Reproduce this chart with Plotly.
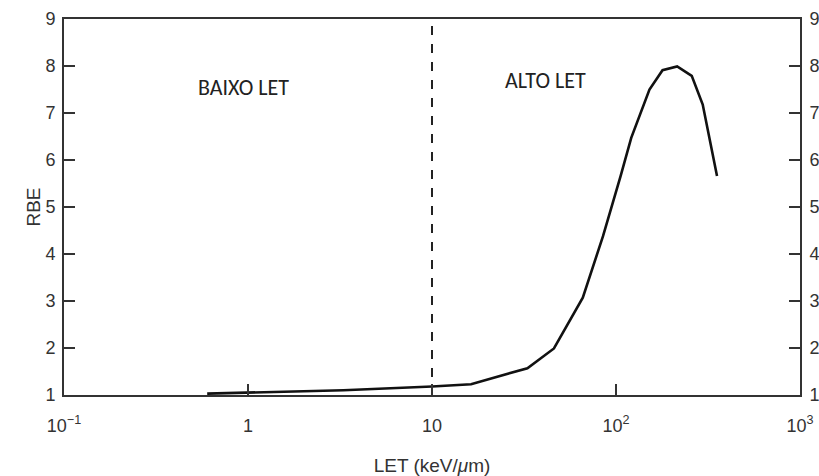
import math
import plotly.graph_objects as go

# Data
let_vals = [0.6, 1, 3.3, 10, 16.3, 33, 46, 66, 85, 106, 121, 152, 179, 215, 258, 296, 354]
rbe_vals = [1.03, 1.05, 1.1, 1.18, 1.23, 1.57, 1.99, 3.07, 4.38, 5.66, 6.47, 7.5, 7.91, 7.99, 7.79, 7.18, 5.66]

x_tickvals = [0.1, 1, 10, 100, 1000]
x_ticktext = ["10<sup>\u22121</sup>", "1", "10", "10<sup>2</sup>", "10<sup>3</sup>"]
y_tickvals = [1, 2, 3, 4, 5, 6, 7, 8, 9]

divider_let = 10
region_labels = ["BAIXO LET", "ALTO LET"]
region_x = [0.94, 41.5]
region_y = [7.55, 7.7]

axis_color = "#333333"
font_fam = "Liberation Sans, Arial, sans-serif"

fig = go.Figure()
fig.add_trace(go.Scatter(
    x=let_vals, y=rbe_vals, mode="lines",
    line=dict(color="#111111", width=2.6), showlegend=False, hoverinfo="skip"))
fig.add_trace(go.Scatter(
    x=[divider_let, divider_let], y=[1, 9], mode="lines",
    line=dict(color="#222222", width=2, dash="dash"), showlegend=False, hoverinfo="skip"))
fig.add_trace(go.Scatter(
    x=[divider_let], y=[5], yaxis="y2", mode="markers",
    marker=dict(opacity=0), showlegend=False, hoverinfo="skip"))

for lbl, xv, yv in zip(region_labels, region_x, region_y):
    fig.add_annotation(x=math.log10(xv), y=yv, text=lbl, showarrow=False,
                       font=dict(family="Carlito, Lato, sans-serif", size=22, color="#222222"))

common_y = dict(range=[1, 9], tickvals=y_tickvals, ticks="inside", ticklen=11,
                tickwidth=2, tickcolor=axis_color, showgrid=False, zeroline=False,
                showline=True, linecolor=axis_color, linewidth=2, automargin=False,
                tickfont=dict(family=font_fam, size=18, color="#333333"))

fig.update_layout(
    width=819, height=476,
    margin=dict(l=64, r=19, t=19, b=81),
    plot_bgcolor="white", paper_bgcolor="white",
    xaxis=dict(type="log", range=[-1, 3], tickvals=x_tickvals, ticktext=x_ticktext,
               ticks="inside", ticklen=11, tickwidth=2, tickcolor=axis_color,
               showgrid=False, zeroline=False, showline=True, linecolor=axis_color,
               linewidth=2, mirror=True, ticklabelstandoff=13, automargin=False,
               tickfont=dict(family=font_fam, size=18, color="#333333"),
               title=dict(text="LET (keV/<i>\u03bc</i>m)", standoff=25,
                          font=dict(family=font_fam, size=19, color="#333333"))),
    yaxis=dict(**common_y, ticklabelstandoff=3,
               title=dict(text="RBE", standoff=0,
                          font=dict(family=font_fam, size=19, color="#333333"))),
    yaxis2=dict(**common_y, overlaying="y", side="right", ticklabelstandoff=4),
)

fig.write_html(
    "out.html",
    config=dict(displayModeBar=False),
    post_script="document.body.style.margin='0';document.body.style.overflow='hidden';",
)
